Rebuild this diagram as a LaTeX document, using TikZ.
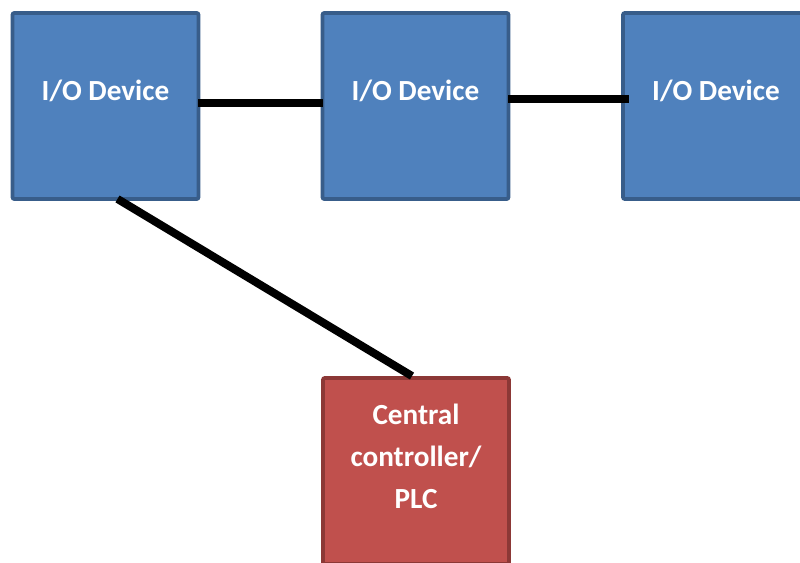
\documentclass[tikz,border=0pt]{standalone}
\usepackage{fontspec}
\setmainfont{Carlito}
\usetikzlibrary{calc}
\definecolor{iofill}{HTML}{4F81BD}
\definecolor{ioline}{HTML}{385D8A}
\definecolor{plcfill}{HTML}{C0504D}
\definecolor{plcline}{HTML}{8C3836}
\tikzset{
  boxbase/.style={draw, line width=2.9pt, rounded corners=1.5pt, minimum width=139.5pt, minimum height=139.5pt, inner sep=0pt},
  iobox/.style={boxbase, fill=iofill, draw=ioline},
  plcbox/.style={boxbase, fill=plcfill, draw=plcline},
  lbl/.style={text=white, font=\fontsize{21.9}{31.5}\selectfont\bfseries, align=center, inner sep=0pt},
  wire/.style={line width=6pt, black}
}
\begin{document}
\begin{tikzpicture}[x=0.75pt, y=-0.75pt]
\useasboundingbox (0,0) rectangle (800,563);
\node[iobox] (d1) at (105.5,106) {};
\node[iobox] (d2) at (415.5,106) {};
\node[iobox] (d3) at (716,106) {};
\node[plcbox] (plc) at (416,471) {};
\node[lbl] (t1) at (105.5,91) {I/O Device};
\node[lbl] (t2) at (415.5,91) {I/O Device};
\node[lbl] (t3) at (716,91) {I/O Device};
\node[lbl] (t4) at (416,456) {Central\\controller/\\PLC};
\draw[wire] ($(d1.east)+(-2,-3)$) -- ($(d2.west)+(2,-3)$);
\draw[wire] ($(d2.east)+(-2,-7)$) -- ($(d3.west)+(8,-7)$);
\draw[wire] ($(d1.south)+(12,-2)$) -- ($(plc.north)+(-4,0)$);
\end{tikzpicture}
\end{document}
